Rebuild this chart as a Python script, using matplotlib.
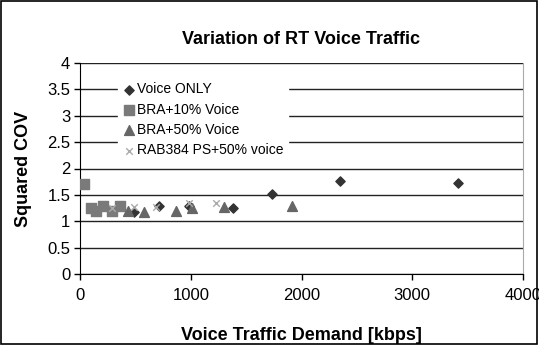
import numpy as np
import matplotlib.pyplot as plt
from matplotlib.patches import Rectangle

plt.rcParams['font.family'] = ['Liberation Sans', 'DejaVu Sans']

# values
voice_only_x = [490, 710, 985, 1377, 1731, 2348, 3410]
voice_only_y = [1.18, 1.29, 1.28, 1.25, 1.51, 1.77, 1.72]
bra10_x = [40, 95, 145, 212, 288, 364]
bra10_y = [1.70, 1.26, 1.20, 1.28, 1.20, 1.28]
bra50_x = [430, 578, 867, 1015, 1300, 1911]
bra50_y = [1.19, 1.18, 1.20, 1.26, 1.27, 1.28]
rab_x = [286, 488, 690, 980, 1225]
rab_y = [1.26, 1.27, 1.27, 1.34, 1.34]

xticks = [0, 1000, 2000, 3000, 4000]
yticks = np.arange(0, 4.01, 0.5)

fig = plt.figure(figsize=(5.39, 3.45), dpi=100)
ax = fig.add_axes([80 / 539, 71 / 345, 443 / 539, 211 / 345])

ax.scatter(voice_only_x, voice_only_y, marker='D', s=22, color='#333333',
           label='Voice ONLY', zorder=3)
ax.scatter(bra10_x, bra10_y, marker='s', s=48, color='#7a7a7a',
           label='BRA+10% Voice', zorder=3)
ax.scatter(bra50_x, bra50_y, marker='^', s=50, color='#666666',
           label='BRA+50% Voice', zorder=3)
ax.scatter(rab_x, rab_y, marker='x', s=22, color='#aaaaaa', linewidths=1,
           label='RAB384 PS+50% voice', zorder=3)

ax.set_xlim(0, 4000)
ax.set_ylim(0, 4)
ax.set_xticks(xticks)
ax.set_yticks(yticks)
ax.set_yticklabels([f'{v:g}' for v in yticks])
ax.grid(axis='y', color='#222222', linewidth=1)
ax.set_axisbelow(True)
ax.tick_params(labelsize=12, direction='out', length=4, width=1, color='black')
ax.tick_params(axis='x', pad=6)
ax.tick_params(axis='y', pad=3)

ax.spines['top'].set_visible(False)
ax.spines['right'].set_color('#aaaaaa')
ax.spines['left'].set_color('black')
ax.spines['bottom'].set_color('black')

ax.set_title('Variation of RT Voice Traffic', fontsize=13, fontweight='bold', pad=14)
ax.set_xlabel('Voice Traffic Demand [kbps]', fontsize=13, fontweight='bold', labelpad=17)
ax.set_ylabel('Squared COV', fontsize=13, fontweight='bold', labelpad=11)

leg = ax.legend(loc='upper left', bbox_to_anchor=(118 / 539, 1 - 78 / 345),
                bbox_transform=fig.transFigure, frameon=True, fontsize=10,
                handletextpad=0.1, handlelength=1.0, labelspacing=0.46,
                borderpad=0.3, borderaxespad=0, scatterpoints=1)
leg.get_frame().set_facecolor('white')
leg.get_frame().set_edgecolor('white')
leg.get_frame().set_alpha(1)

fig.patches.append(Rectangle((0.002, 0.003), 0.995, 0.994, transform=fig.transFigure,
                             fill=False, edgecolor='black', linewidth=1.2))

fig.savefig('out.png', dpi=100)
